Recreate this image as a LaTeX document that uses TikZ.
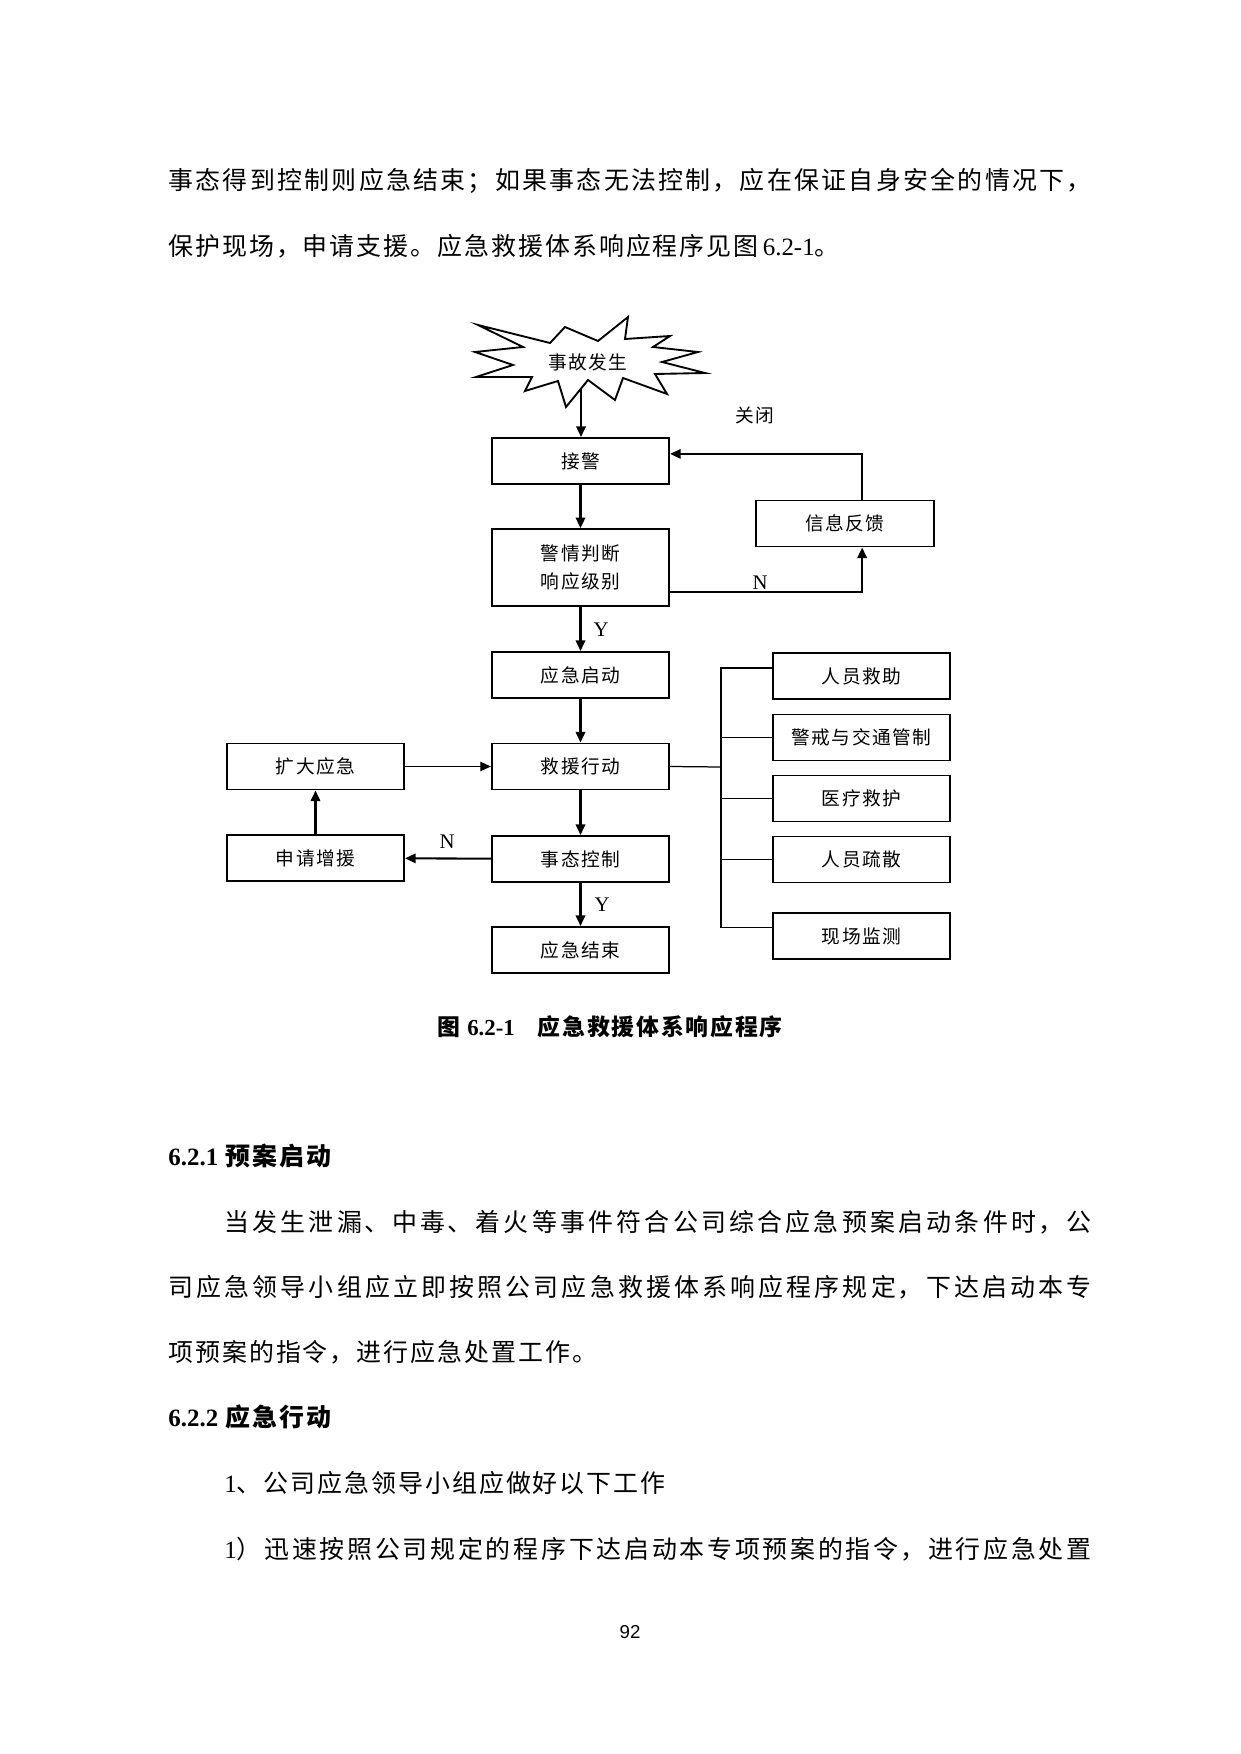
\documentclass[tikz,border=0pt]{standalone}
\usepackage{fontspec}
\setmainfont{Noto Sans CJK SC}
\newfontfamily\cjk[LetterSpace=8]{Noto Sans CJK SC}
\newfontfamily\lat{Liberation Serif}
\newfontfamily\pagefont{Liberation Sans}
\usetikzlibrary{arrows.meta}
\XeTeXlinebreaklocale "zh"
\XeTeXlinebreakskip=0pt plus 1pt
% one justified line of body text
\newcommand{\fullline}[2]{\parbox{#1}{\parfillskip=0pt\relax #2}}

\begin{document}
\begin{tikzpicture}[
  x=0.1692mm, y=-0.1692mm,
  font=\fontsize{9}{11}\cjk,
  flowbox/.style={draw, line width=0.9pt, minimum width=30mm, minimum height=7.8mm, inner sep=1pt},
  tallbox/.style={flowbox, minimum height=13mm, align=center, font=\fontsize{9}{13.3}\cjk},
  link/.style={line width=1pt, -{Triangle[length=1.8mm, width=1.6mm]}},
  thinlink/.style={line width=0.5pt, -{Triangle[length=1.8mm, width=1.6mm]}},
  branch/.style={line width=0.6pt},
  yn/.style={font=\fontsize{10}{12}\lat},
  bodyline/.style={anchor=west, inner sep=0pt, font=\fontsize{12}{14}\cjk},
  headline/.style={anchor=west, inner sep=0pt, font=\fontsize{12}{14}\cjk\bfseries}
]
\useasboundingbox (0,0) rectangle (1241,1754);

% Text above the figure
\node[bodyline] (p1a) at (168,181) {\fullline{156.2mm}{事态得到控制则应急结束；如果事态无法控制，应在保证自身安全的情况下，}};
\node[bodyline] (p1b) at (168,246) {保护现场，申请支援。应急救援体系响应程序见图\,{\lat 6.2-1}。};

% Starburst for the accident
\draw[line width=0.9pt] (478,325) -- (550,343) -- (565,327) -- (598,341) -- (628,317) -- (625,339)
  -- (670,336) -- (653,347) -- (698,352) -- (662,362) -- (705,373) -- (655,374) -- (667,394)
  -- (623,378) -- (615,400) -- (588,380) -- (566,407) -- (558,381) -- (525,391) -- (532,377)
  -- (476,377) -- (513,365) -- (475,352) -- (523,347) -- cycle;
\node (accident) at (588,362) {事故发生};
\coordinate (burst) at (581,389);

% Main column
\node[flowbox] (alarm) at (580.5,461) {接警};
\node[tallbox] (judge) at (580.5,567.5) {警情判断\\响应级别};
\node[flowbox] (start) at (580.5,675) {应急启动};
\node[flowbox] (rescue) at (580.5,766.5) {救援行动};
\node[flowbox] (control) at (580.5,859) {事态控制};
\node[flowbox] (finish) at (580.5,950) {应急结束};

% Feedback loop
\node[flowbox] (feedback) at (845,523.5) {信息反馈};
\node (close) at (755,415) {关闭};

% Left column
\node[flowbox] (expand) at (315.5,766.5) {扩大应急};
\node[flowbox] (apply) at (315.5,858) {申请增援};

% Right column
\node[flowbox] (save) at (861.5,676) {人员救助};
\node[flowbox] (guard) at (861.5,737.5) {警戒与交通管制};
\node[flowbox] (medical) at (861.5,798.5) {医疗救护};
\node[flowbox] (evacuate) at (861.5,859.5) {人员疏散};
\node[flowbox] (monitor) at (861.5,936) {现场监测};

% Arrows down the main column
\draw[link] (burst) -- (burst |- alarm.north);
\draw[link] (alarm) -- (judge);
\draw[link] (judge) -- (start);
\draw[link] (start) -- (rescue);
\draw[link] (rescue) -- (control);
\draw[link] (control) -- (finish);
\node[yn] (y1) at (601,630) {Y};
\node[yn] (y2) at (602,905) {Y};

% N branch to feedback and back
\draw[link] ([yshift=-4.15mm]judge.east) -| ([xshift=2.9mm]feedback.south);
\draw[link] ([xshift=2.9mm]feedback.north) |- ([yshift=1.2mm]alarm.east);
\node[yn] (n1) at (760,583) {N};

% Request more help
\draw[link] (control) -- (apply);
\draw[link] (apply) -- (expand);
\draw[thinlink] (expand) -- (rescue);
\node[yn] (n2) at (447,842) {N};

% Bus to the tasks
\coordinate (bus) at (721,767);
\draw[branch] (rescue.east) -- (bus);
\draw[branch] ([yshift=1.35mm]save.west) -| (bus) |- ([yshift=1.5mm]monitor.west);
\draw[branch] (bus |- guard.west) -- (guard.west);
\draw[branch] (bus |- medical.west) -- (medical.west);
\draw[branch] (bus |- evacuate.west) -- (evacuate.west);

% Caption
\node[font=\fontsize{11}{13}\cjk\bfseries] (caption) at (610,1027) {图 {\lat 6.2-1}\quad 应急救援体系响应程序};

% Text below the figure
\node[headline] (sec1) at (168,1156) {{\lat 6.2.1} 预案启动};
\node[bodyline] (p2a) at (224,1222) {\fullline{146.7mm}{当发生泄漏、中毒、着火等事件符合公司综合应急预案启动条件时，公}};
\node[bodyline] (p2b) at (168,1287) {\fullline{156.2mm}{司应急领导小组应立即按照公司应急救援体系响应程序规定，下达启动本专}};
\node[bodyline] (p2c) at (168,1352) {项预案的指令，进行应急处置工作。};
\node[headline] (sec2) at (168,1417) {{\lat 6.2.2} 应急行动};
\node[bodyline] (p3a) at (224,1483) {{\lat 1}、公司应急领导小组应做好以下工作};
\node[bodyline] (p3b) at (224,1549) {\fullline{146.7mm}{{\lat 1}）迅速按照公司规定的程序下达启动本专项预案的指令，进行应急处置}};

% Page number
\node[font=\fontsize{9}{11}\pagefont] (page) at (630,1632) {92};

\end{tikzpicture}
\end{document}
